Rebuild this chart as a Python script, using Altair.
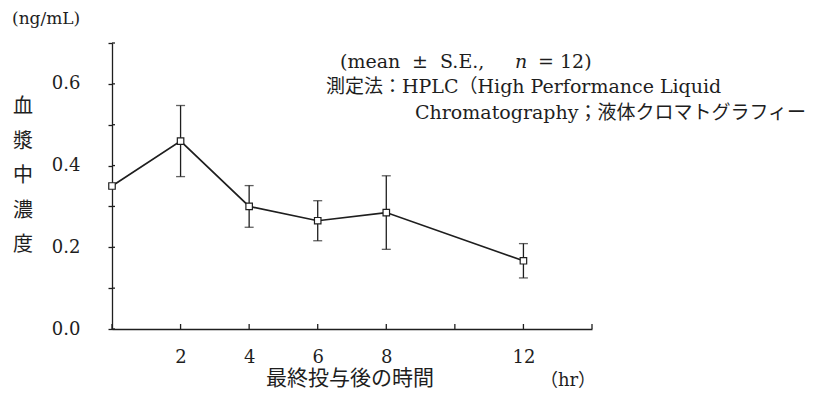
import altair as alt
import pandas as pd

# ---- data ----
time_hr = [0, 2, 4, 6, 8, 12]
conc_mean = [0.35, 0.46, 0.30, 0.265, 0.285, 0.167]
conc_se = [None, 0.087, 0.051, 0.049, 0.090, 0.042]

x_tick_values = [0, 2, 4, 6, 8, 10, 12, 14]
x_label_values = [2, 4, 6, 8, 12]
y_tick_values = [0.0, 0.1, 0.2, 0.3, 0.4, 0.5, 0.6, 0.7]

y_title_chars = ["血", "漿", "中", "濃", "度"]
unit_y = "(ng/mL)"
x_title = "最終投与後の時間"
unit_x = "（hr）"
note_1_parts = ["(mean", "±", "S.E.,", "n", "=", "12)"]
note_2 = "測定法：HPLC（High Performance Liquid"
note_3 = "Chromatography；液体クロマトグラフィー"

W, H = 480, 286
INK = "#1e1e1e"
FONT = "DejaVu Serif, Noto Sans CJK JP"

df = pd.DataFrame({"t": time_hr, "mean": conc_mean, "se": conc_se})
df["lo"] = df["mean"] - df["se"]
df["hi"] = df["mean"] + df["se"]
df_err = df.dropna(subset=["se"])

xs = alt.Scale(domain=[0, 14], nice=False, zero=False)
ys = alt.Scale(domain=[0, 0.7], nice=False)

label_list = "[" + ",".join(str(v) for v in x_label_values) + "]"

x_axis = alt.Axis(
    values=x_tick_values,
    labelExpr=f"indexof({label_list}, datum.value) >= 0 ? datum.label : ''",
    ticks=False,
    labelPadding=19,
    labelFontSize=18,
    labelFont=FONT,
    labelColor=INK,
    domainColor=INK,
    domainWidth=1.3,
    grid=False,
    title=None,
)
y_axis = alt.Axis(
    values=y_tick_values,
    labelExpr="round(datum.value*10) % 2 == 0 ? format(datum.value, '.1f') : ''",
    tickSize=4,
    tickColor=INK,
    tickWidth=1.3,
    labelPadding=28,
    labelFontSize=18,
    labelFont=FONT,
    labelColor=INK,
    domainColor=INK,
    domainWidth=1.3,
    grid=False,
    title=None,
)

base = alt.Chart(df)

line = base.mark_line(color=INK, strokeWidth=1.7).encode(
    x=alt.X("t:Q", scale=xs, axis=x_axis),
    y=alt.Y("mean:Q", scale=ys, axis=y_axis),
)

err = alt.Chart(df_err).mark_errorbar(
    ticks={"size": 9, "thickness": 1.3, "color": INK},
    rule={"strokeWidth": 1.3, "color": INK},
).encode(
    x=alt.X("t:Q", scale=xs),
    y=alt.Y("lo:Q", scale=ys, title=None),
    y2="hi:Q",
)

pts = base.mark_square(
    size=42, filled=True, fill="white", stroke=INK, strokeWidth=1.2, opacity=1
).encode(
    x=alt.X("t:Q", scale=xs),
    y=alt.Y("mean:Q", scale=ys),
)

# inward tick marks (reference ticks point into the plot on x and cross on y)
xt = alt.Chart(pd.DataFrame({"tick": x_tick_values})).mark_rule(
    color=INK, strokeWidth=1.3
).encode(
    x=alt.X("tick:Q", scale=xs),
    y=alt.value(H),
    y2=alt.value(H - 5),
)
yt = alt.Chart(pd.DataFrame({"tick": y_tick_values})).mark_rule(
    color=INK, strokeWidth=1.3
).encode(
    y=alt.Y("tick:Q", scale=ys),
    x=alt.value(0),
    x2=alt.value(3),
)


def txt(s, x, y, size=19, align="left", **kw):
    return alt.Chart(pd.DataFrame({"s": [s]})).mark_text(
        align=align, baseline="middle", font=FONT, fontSize=size, color=INK, **kw
    ).encode(text="s:N", x=alt.value(x), y=alt.value(y))


ytitle = alt.Chart(pd.DataFrame({"s": ["\n".join(y_title_chars)]})).mark_text(
    align="center", baseline="top", font=FONT, fontSize=20, color=INK,
    lineBreak="\n", lineHeight=34.5,
).encode(text="s:N", x=alt.value(-89), y=alt.value(54))

# positions of the pieces of the first note line (plot-relative pixels)
note_1_x = [228, 300, 328, 403, 426, 448]
note_1 = [
    txt(p, x, 19, fontStyle="italic" if p == "n" else "normal")
    for p, x in zip(note_1_parts, note_1_x)
]

texts = [
    txt(unit_y, -100, -24, size=17, align="left"),
    txt(x_title, 238, 336, size=21, align="center"),
    txt(unit_x, 456, 338, size=18, align="center"),
    *note_1,
    txt(note_2, 214, 44),
    txt(note_3, 303, 70),
    ytitle,
]

chart = alt.layer(line, err, xt, yt, pts, *texts).properties(
    width=W,
    height=H,
    background="white",
    autosize=alt.AutoSizeParams(type="none"),
    padding={"left": 104, "top": 35, "right": 224, "bottom": 62},
).configure_view(stroke=None, strokeWidth=0)

chart.save("out.html", embed_options={"renderer": "svg", "actions": False})
